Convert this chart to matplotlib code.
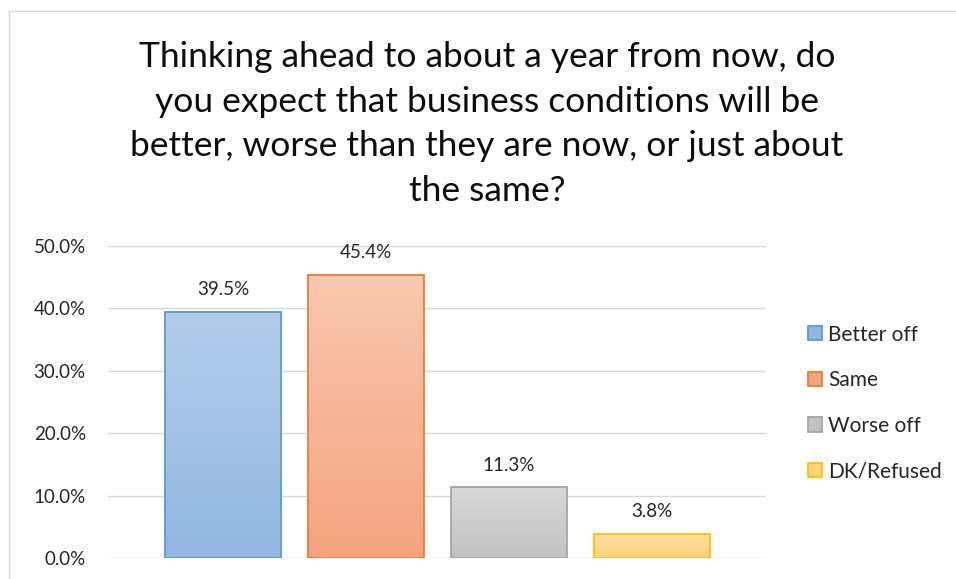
import numpy as np
import matplotlib
matplotlib.use("Agg")
import matplotlib.pyplot as plt
from matplotlib.colors import LinearSegmentedColormap
from matplotlib.patches import Patch, Rectangle
from matplotlib.ticker import PercentFormatter

plt.rcParams['font.family'] = ['Lato', 'DejaVu Sans']

# data
categories = ['Better off', 'Same', 'Worse off', 'DK/Refused']
shares = [39.5, 45.4, 11.3, 3.8]
title = ('Thinking ahead to about a year from now, do\n'
         'you expect that business conditions will be\n'
         'better, worse than they are now, or just about\n'
         'the same?')

# (top of gradient, bottom of gradient, edge)
colours = [('#b4cdea', '#92b6e1', '#5b9bd5'),
           ('#f9c8b0', '#f4a37e', '#ed7d31'),
           ('#d8d8d8', '#c2c2c2', '#a5a5a5'),
           ('#ffdf9f', '#ffd27c', '#ffc000')]

fig = plt.figure(figsize=(9.56, 5.79), dpi=100)
# light chart frame, right/bottom edges fall outside the picture
fig.patches.append(Rectangle((9 / 956, -0.1), 1.2, 1 - 11 / 579 + 0.1,
                             transform=fig.transFigure, fill=False,
                             edgecolor='#d9d9d9', linewidth=1.0))

ax = fig.add_axes([108 / 956, 1 - 558 / 579, (766 - 108) / 956, (558 - 246) / 579])

x = np.arange(len(categories))
width = 0.81
bars = ax.bar(x, shares, width=width, facecolor='none', zorder=3)
for b, (top, bottom, edge) in zip(bars, colours):
    cmap = LinearSegmentedColormap.from_list('g', [bottom, top])
    grad = np.linspace(1, 0, 100).reshape(-1, 1)
    ax.imshow(grad, cmap=cmap, aspect='auto', zorder=2,
              extent=(b.get_x(), b.get_x() + b.get_width(), 0, b.get_height()),
              vmin=0, vmax=1)
    b.set_edgecolor(edge)
    b.set_linewidth(1.3)
    ax.annotate('{:.1f}%'.format(b.get_height()),
                (b.get_x() + b.get_width() / 2, b.get_height()),
                xytext=(0, 10), textcoords='offset points',
                ha='center', va='bottom', fontsize=13.5, color='#262626')

ax.set_xlim(-0.804, 3.797)
ax.set_ylim(0, 50)
ax.set_yticks(np.arange(0, 51, 10))
ax.yaxis.set_major_formatter(PercentFormatter(decimals=1))
ax.set_xticks([])
ax.grid(axis='y', color='#d9d9d9', linewidth=1.0, zorder=0)
ax.set_axisbelow(True)
for s in ax.spines.values():
    s.set_visible(False)
ax.tick_params(axis='y', length=0, pad=16, labelsize=13.5, labelcolor='#262626')

handles = [Patch(facecolor=bottom, edgecolor=edge, linewidth=1.3)
           for top, bottom, edge in colours]
fig.legend(handles, categories, loc='center left',
           bbox_to_anchor=(789 / 956, 1 - 403 / 579), frameon=False,
           fontsize=15, handlelength=0.67, handleheight=0.67,
           handletextpad=0.3, labelspacing=1.23, labelcolor='#262626')

fig.text(487 / 956, 1 - 41 / 579, title, ha='center', va='top',
         fontsize=25.5, linespacing=1.49, color='#0d0d0d')

fig.savefig('out.png', dpi=100)
